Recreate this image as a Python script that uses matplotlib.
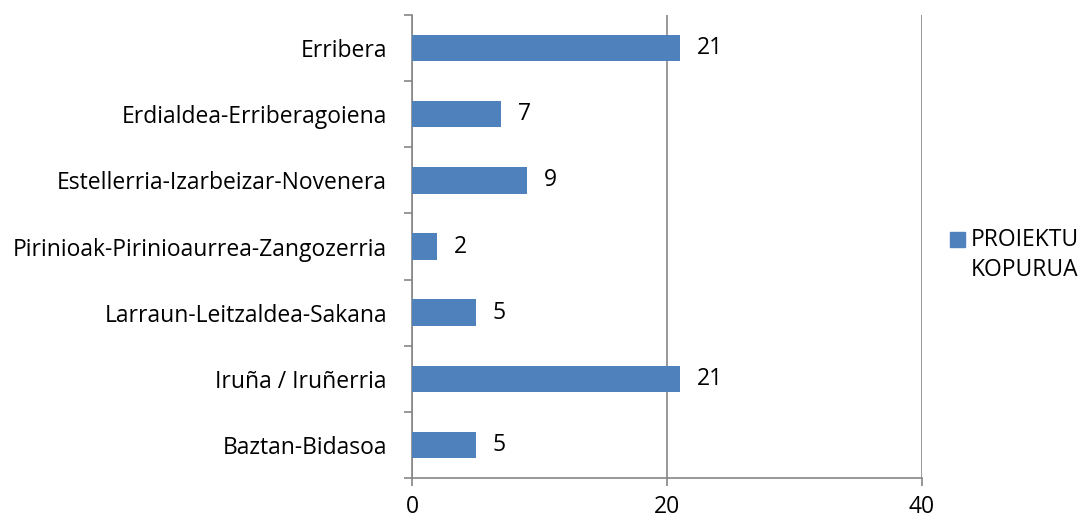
import matplotlib.pyplot as plt
from matplotlib.patches import Rectangle

plt.rcParams['font.family'] = ['Open Sans', 'DejaVu Sans']

regions = ['Baztan-Bidasoa', 'Iruña / Iruñerria', 'Larraun-Leitzaldea-Sakana',
           'Pirinioak-Pirinioaurrea-Zangozerria', 'Estellerria-Izarbeizar-Novenera',
           'Erdialdea-Erriberagoiena', 'Erribera']
proiektuak = [5, 21, 5, 2, 9, 7, 21]
x_ticks = [0, 20, 40]

blue = '#4f81bd'
grey = '#868686'
fs = 16.5

fig = plt.figure(figsize=(10.83, 5.23), dpi=100)
ax = fig.add_axes([0.3804, 0.0860, 0.4709, 0.8853])

pos = list(range(len(regions)))
ax.barh(pos, proiektuak, height=0.4, color=blue, zorder=3)
for p, v in zip(pos, proiektuak):
    ax.annotate(str(v), (v, p), xytext=(12, 0), textcoords='offset points',
                va='center', ha='left', fontsize=fs, color='black')

ax.set_xlim(0, 40)
ax.set_ylim(-0.5, len(regions) - 0.5)
ax.set_xticks(x_ticks)
ax.set_xticklabels([str(t) for t in x_ticks], fontsize=fs)
ax.set_yticks(pos)
ax.set_yticklabels(regions, fontsize=fs)
ax.set_yticks([p - 0.5 for p in pos] + [len(regions) - 0.5], minor=True)
ax.tick_params(axis='y', which='major', length=0, pad=18)
ax.tick_params(axis='y', which='minor', length=6, color=grey, width=1.2)
ax.tick_params(axis='x', length=6, color=grey, width=1.2, pad=6)

ax.grid(axis='x', color=grey, linewidth=1.2, zorder=0)
for s in ['top', 'right']:
    ax.spines[s].set_visible(False)
for s in ['left', 'bottom']:
    ax.spines[s].set_color(grey)
    ax.spines[s].set_linewidth(1.2)

# legend
fig.patches.append(Rectangle((950 / 1083, 1 - 247 / 523), 15 / 1083, 15 / 523,
                             transform=fig.transFigure, color=blue))
fig.text(971 / 1083, 1 - 255 / 523, 'PROIEKTU\nKOPURUA', fontsize=fs,
         va='center', ha='left', linespacing=1.35,
         transform=fig.transFigure)

fig.savefig('out.png', dpi=100)
